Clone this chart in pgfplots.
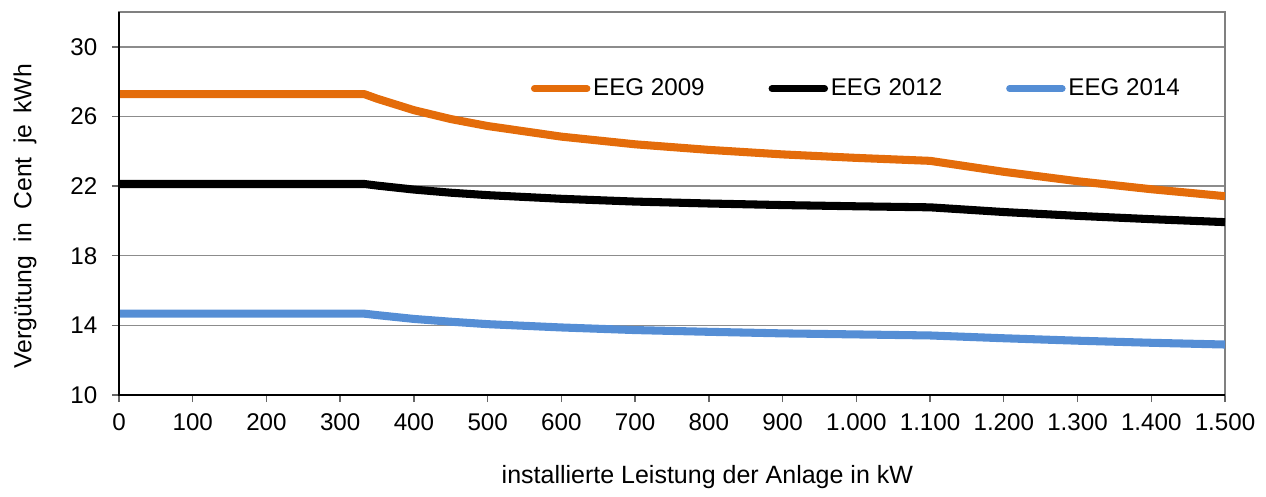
\documentclass[border=0pt]{standalone}
\usepackage{fontspec}
\setmainfont{Liberation Sans}
\usepackage{pgfplots}
\pgfplotsset{compat=1.18}

\definecolor{eegorange}{RGB}{228,108,10}
\definecolor{eegblue}{RGB}{85,142,213}
\definecolor{gridgray}{RGB}{140,140,140}

% Durchschnittliche Verguetung je kWh (gelesen aus der Grafik)
\pgfplotstableread{
P     e2009  e2012  e2014
0     27.28  22.12  14.67
333   27.28  22.12  14.67
350   27.02  22.03  14.59
400   26.36  21.80  14.37
450   25.85  21.62  14.21
500   25.45  21.48  14.07
600   24.84  21.27  13.88
700   24.40  21.11  13.73
800   24.08  21.00  13.63
900   23.82  20.91  13.54
1000  23.62  20.84  13.48
1100  23.45  20.78  13.42
1200  22.82  20.51  13.26
1300  22.28  20.29  13.12
1400  21.82  20.10  13.00
1500  21.42  19.93  12.90
}\eegdata

\begin{document}
\fontsize{8.7}{10.4}\selectfont
\begin{tikzpicture}
\begin{axis}[
    name=ax,
    width=398.2pt, height=137.9pt,
    scale only axis,
    xmin=0, xmax=1500, ymin=10, ymax=32,
    xtick={0,100,...,1500},
    ytick={10,14,...,30},
    xtick pos=bottom, ytick pos=left,
    tick align=outside,
    major tick length=2.6pt,
    tick style={black!60, line width=0.5pt},
    ymajorgrids,
    grid style={gridgray, line width=0.5pt},
    axis line style={black!50, line width=0.7pt},
    /pgf/number format/.cd, 1000 sep={.}, assume math mode=true,
    /pgfplots/.cd,
    xticklabel style={font=\fontsize{8.7}{10.4}\selectfont, inner sep=0pt, yshift=-4pt},
    yticklabel style={font=\fontsize{8.7}{10.4}\selectfont, inner sep=0pt, xshift=-5pt},
    xlabel={installierte Leistung der Anlage in kW},
    xlabel style={at={(axis description cs:0.532,0)}, anchor=base, yshift=-32pt, inner sep=0pt,
        font=\fontsize{9.0}{10.8}\selectfont},
    ylabel={Vergütung\hspace{0.545em}in\hspace{0.545em}Cent\hspace{0.545em}je\hspace{0.45em}kWh},
    ylabel style={at={(axis description cs:-0.085,0.467)}, anchor=center, inner sep=0pt,
        font=\fontsize{8.9}{10.7}\selectfont},
    legend columns=3,
    legend style={at={(axis description cs:0.372,0.80)}, anchor=west,
        draw=none, fill=none, inner sep=0pt,
        font=\fontsize{8.7}{10.4}\selectfont,
        /tikz/every even column/.append style={column sep=22pt},
        nodes={inner xsep=1pt}},
    legend image code/.code={\draw[#1, line width=2.4pt, line cap=round] (0pt,0pt) -- (19pt,0pt);},
    every axis plot/.append style={line width=2.9pt, line join=round},
]
\addplot[eegorange, no marks] table[x=P, y=e2009] {\eegdata};
\addlegendentry{EEG 2009}
\addplot[black, no marks] table[x=P, y=e2012] {\eegdata};
\addlegendentry{EEG 2012}
\addplot[eegblue, no marks] table[x=P, y=e2014] {\eegdata};
\addlegendentry{EEG 2014}
\coordinate (bl) at (rel axis cs:0,0);
\coordinate (tr) at (rel axis cs:1,1);
\end{axis}
\draw[black, line width=0.7pt] (tr -| bl) -- (bl) -- (bl -| tr);
\path ([shift={(-42.84pt,-36.36pt)}]bl) rectangle ([shift={(14.76pt,4.32pt)}]tr);
\end{tikzpicture}
\end{document}
